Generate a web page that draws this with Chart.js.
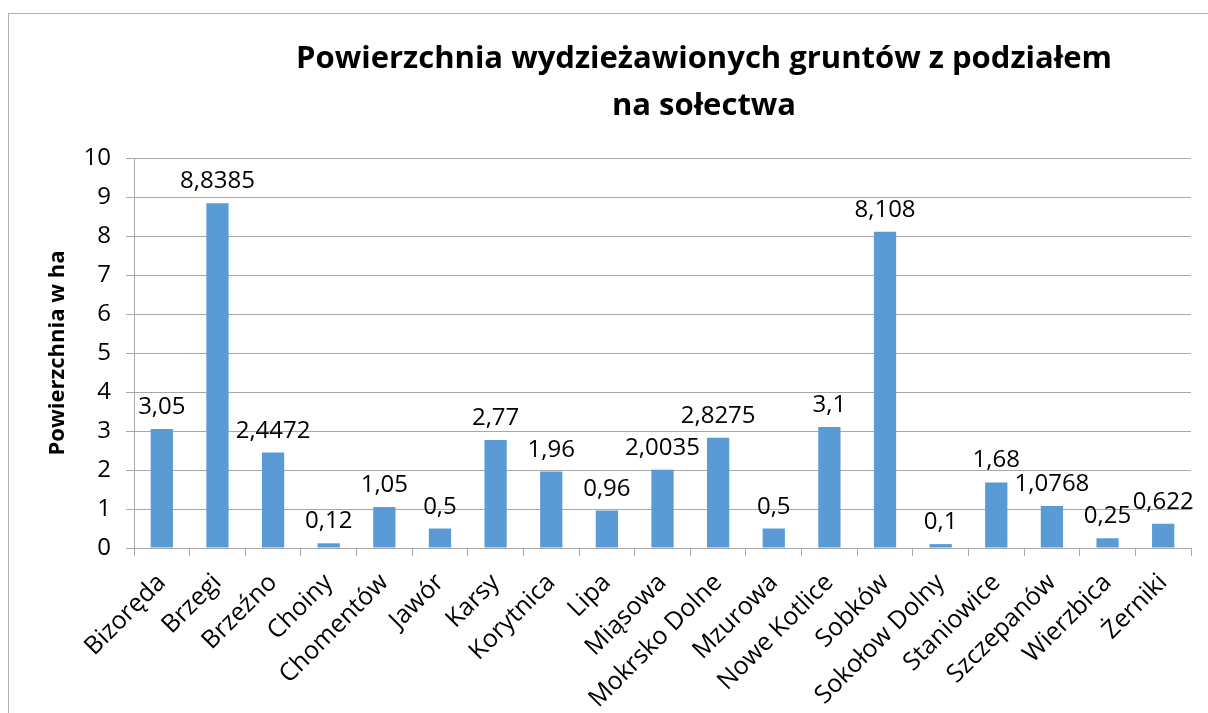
<!DOCTYPE html>
<html>
<head>
<meta charset="utf-8">
<script src="https://cdn.jsdelivr.net/npm/chart.js@4"></script>
<style>
  html, body { margin: 0; padding: 0; background: #fff; overflow: hidden; }
  #frame {
    position: absolute; left: 8px; top: 13px;
    width: 1390px; height: 720px;
    border: 1px solid #b0b0b0;
  }
  #chart { display: block; }
</style>
</head>
<body>
<div id="frame"><canvas id="chart" width="1390" height="699"></canvas></div>
<script>
const villages = ['Bizoręda', 'Brzegi', 'Brzeźno', 'Choiny', 'Chomentów', 'Jawór', 'Karsy',
  'Korytnica', 'Lipa', 'Miąsowa', 'Mokrsko Dolne', 'Mzurowa', 'Nowe Kotlice', 'Sobków',
  'Sokołow Dolny', 'Staniowice', 'Szczepanów', 'Wierzbica', 'Żerniki'];
const areaHa = [3.05, 8.8385, 2.4472, 0.12, 1.05, 0.5, 2.77, 1.96, 0.96, 2.0035, 2.8275,
  0.5, 3.1, 8.108, 0.1, 1.68, 1.0768, 0.25, 0.622];
const yTicks = [0, 1, 2, 3, 4, 5, 6, 7, 8, 9, 10];

const fontName = "'Open Sans', 'Liberation Sans', sans-serif";
const gridColor = '#a8a8a8';

// comma decimals like the original
const plNum = v => String(v).replace('.', ',');

const valueLabels = {
  id: 'valueLabels',
  afterDatasetsDraw(chart) {
    const ctx = chart.ctx;
    const meta = chart.getDatasetMeta(0);
    ctx.save();
    ctx.font = '24px ' + fontName;
    ctx.fillStyle = '#000';
    ctx.textAlign = 'center';
    ctx.textBaseline = 'alphabetic';
    meta.data.forEach((bar, i) => {
      ctx.fillText(plNum(areaHa[i]), bar.x, bar.y - 15);
    });
    ctx.restore();
  }
};

new Chart(document.getElementById('chart'), {
  type: 'bar',
  data: {
    labels: villages,
    datasets: [{
      data: areaHa,
      backgroundColor: '#5b9bd5',
      categoryPercentage: 1,
      barPercentage: 0.4
    }]
  },
  options: {
    responsive: false,
    animation: false,
    layout: { padding: 0 },
    plugins: {
      legend: { display: false },
      tooltip: { enabled: false },
      title: {
        display: true,
        text: ['Powierzchnia wydzieżawionych gruntów z podziałem', 'na sołectwa'],
        color: '#000',
        font: { family: fontName, size: 31, weight: 'bold', lineHeight: 1.5 },
        padding: { top: 22, bottom: 29 }
      }
    },
    scales: {
      x: {
        grid: { drawOnChartArea: false, drawTicks: true, tickLength: 8, color: gridColor },
        border: { color: gridColor },
        ticks: {
          color: '#000',
          font: { family: fontName, size: 25 },
          minRotation: 45, maxRotation: 45,
          padding: 12,
          autoSkip: false
        },
        afterFit(scale) { scale.height = 165; }
      },
      y: {
        min: 0, max: 10,
        afterBuildTicks(scale) { scale.ticks = yTicks.map(v => ({ value: v })); },
        grid: { color: gridColor, tickLength: 8 },
        border: { color: gridColor },
        ticks: {
          color: '#000',
          font: { family: fontName, size: 24 },
          padding: 15
        },
        title: {
          display: true,
          text: 'Powierzchnia w ha',
          color: '#000',
          font: { family: fontName, size: 22, weight: 'bold' },
          padding: { top: 36, bottom: 0 }
        },
        afterFit(scale) { scale.width = 125; }
      },
      // empty right-hand box keeps the plot short of the (cropped) frame edge
      spacer: {
        position: 'right',
        grid: { display: false },
        border: { display: false },
        ticks: { display: false },
        afterFit(scale) { scale.width = 208; }
      }
    }
  },
  plugins: [valueLabels]
});
</script>
</body>
</html>
